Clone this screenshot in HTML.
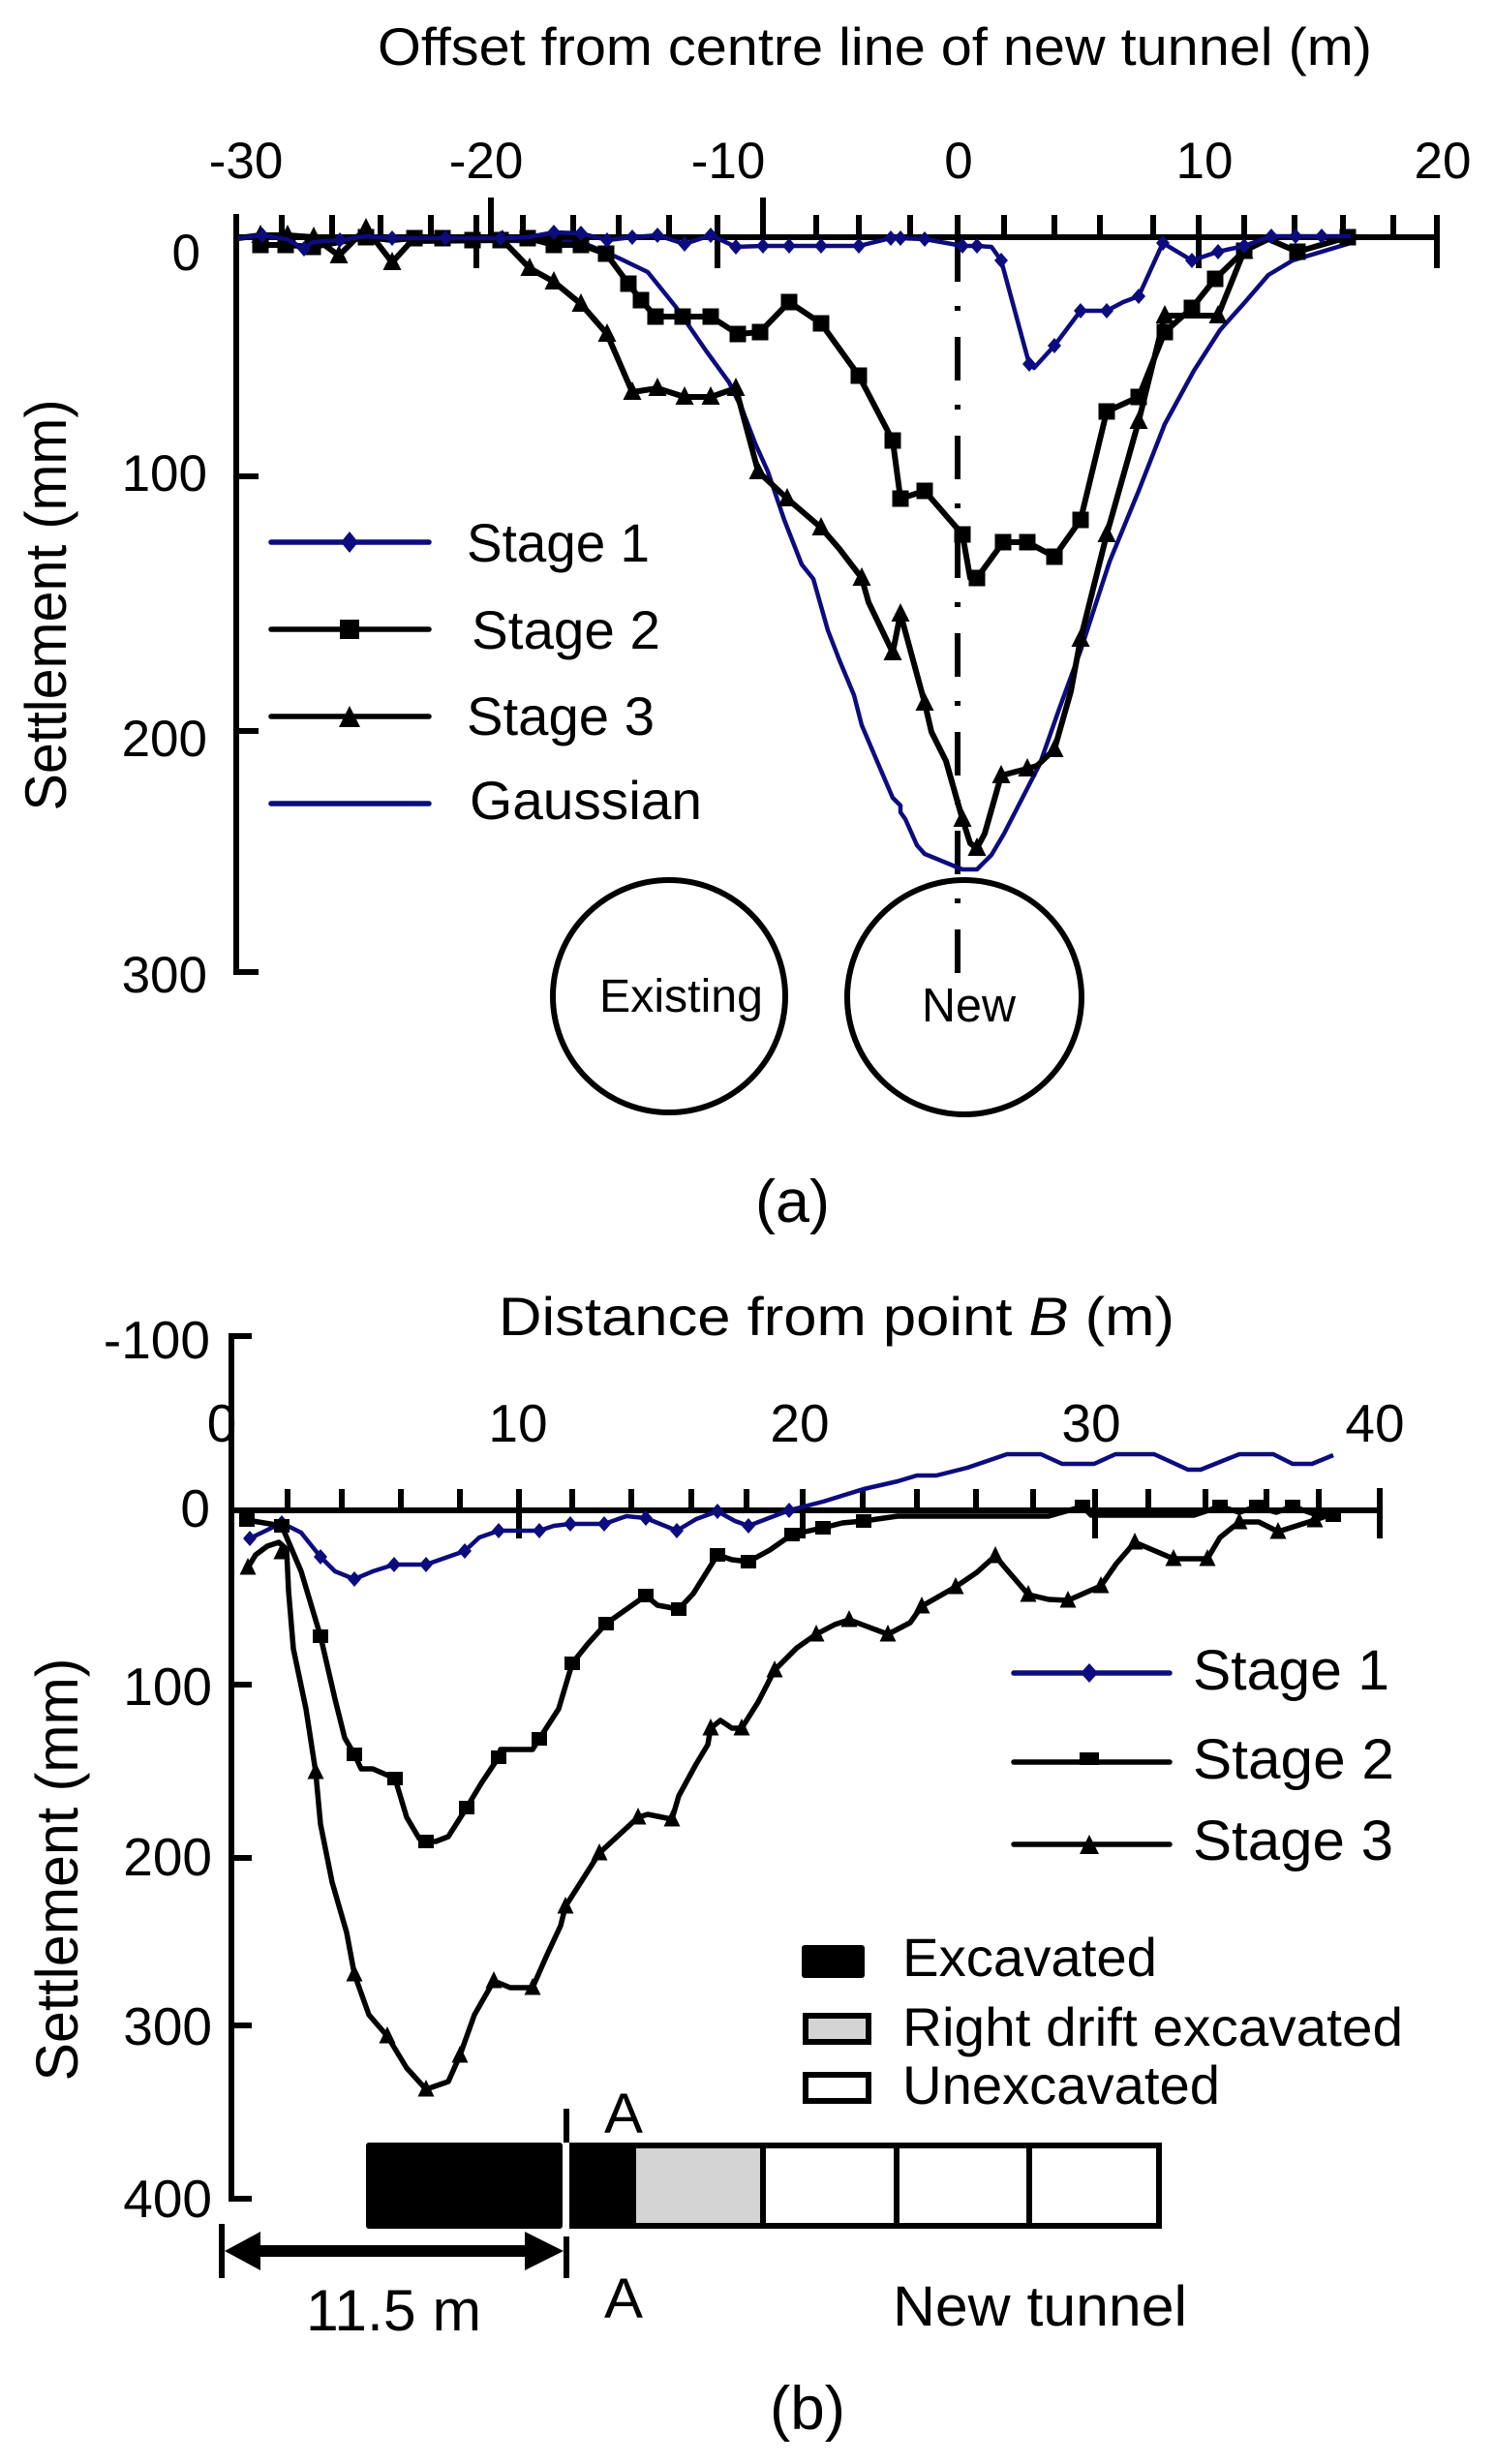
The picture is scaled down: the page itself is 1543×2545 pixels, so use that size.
<!DOCTYPE html>
<html>
<head>
<meta charset="utf-8">
<style>
html,body{margin:0;padding:0;background:#fff;}
svg{display:block;}
text{font-family:"Liberation Sans",Arial,sans-serif;fill:#000;}
</style>
</head>
<body>
<svg width="1543" height="2545" viewBox="0 0 1543 2545" xmlns="http://www.w3.org/2000/svg">
<defs>
  <marker id="dA" markerUnits="userSpaceOnUse" viewBox="-12 -12 24 24" markerWidth="24" markerHeight="24" refX="0" refY="0" overflow="visible"><path d="M0,-8 L7,0 L0,8 L-7,0 Z" fill="#0c0c7e"/></marker>
  <marker id="sA" markerUnits="userSpaceOnUse" viewBox="-12 -12 24 24" markerWidth="24" markerHeight="24" refX="0" refY="0" overflow="visible"><rect x="-8.5" y="-8.5" width="17" height="17" fill="#000"/></marker>
  <marker id="tA" markerUnits="userSpaceOnUse" viewBox="-12 -12 24 24" markerWidth="24" markerHeight="24" refX="0" refY="0" overflow="visible"><path d="M0,-11 L9.5,8 L-9.5,8 Z" fill="#000"/></marker>
  <marker id="dB" markerUnits="userSpaceOnUse" viewBox="-12 -12 24 24" markerWidth="24" markerHeight="24" refX="0" refY="0" overflow="visible"><path d="M0,-8 L7,0 L0,8 L-7,0 Z" fill="#0c0c7e"/></marker>
  <marker id="sB" markerUnits="userSpaceOnUse" viewBox="-12 -12 24 24" markerWidth="24" markerHeight="24" refX="0" refY="0" overflow="visible"><rect x="-8" y="-7" width="16" height="14" fill="#000"/></marker>
  <marker id="tB" markerUnits="userSpaceOnUse" viewBox="-12 -12 24 24" markerWidth="24" markerHeight="24" refX="0" refY="0" overflow="visible"><path d="M0,-10 L8.5,7.5 L-8.5,7.5 Z" fill="#000"/></marker>
</defs>

<!-- ================= PANEL (a) ================= -->
<text x="390" y="67" font-size="55" textLength="1027" lengthAdjust="spacingAndGlyphs">Offset from centre line of new tunnel (m)</text>

<g font-size="53" text-anchor="middle">
  <text x="254" y="184">-30</text>
  <text x="502" y="184">-20</text>
  <text x="752" y="184">-10</text>
  <text x="990" y="184">0</text>
  <text x="1244" y="184">10</text>
  <text x="1490" y="184">20</text>
</g>
<g font-size="53" text-anchor="end">
  <text x="207" y="279">0</text>
  <text x="214" y="507">100</text>
  <text x="214" y="781">200</text>
  <text x="214" y="1025">300</text>
</g>
<text transform="translate(68,625) rotate(-90)" text-anchor="middle" font-size="60" textLength="425" lengthAdjust="spacingAndGlyphs">Settlement (mm)</text>

<!-- axes a -->
<g stroke="#000" stroke-width="6" fill="none" stroke-linecap="butt">
  <line x1="244" y1="221" x2="244" y2="1007"/>
  <line x1="241" y1="245" x2="1487" y2="245"/>
  <line x1="244" y1="492" x2="267" y2="492"/>
  <line x1="244" y1="755" x2="267" y2="755"/>
  <line x1="244" y1="1004" x2="267" y2="1004"/>
  <line x1="291" y1="222" x2="291" y2="245"/>
  <line x1="343" y1="222" x2="343" y2="245"/>
  <line x1="393" y1="222" x2="393" y2="245"/>
  <line x1="445" y1="222" x2="445" y2="245"/>
  <line x1="492" y1="222" x2="492" y2="277"/>
  <line x1="507" y1="204" x2="507" y2="245"/>
  <line x1="540" y1="222" x2="540" y2="245"/>
  <line x1="592" y1="222" x2="592" y2="245"/>
  <line x1="639" y1="222" x2="639" y2="245"/>
  <line x1="691" y1="222" x2="691" y2="245"/>
  <line x1="741" y1="222" x2="741" y2="277"/>
  <line x1="788" y1="204" x2="788" y2="245"/>
  <line x1="843" y1="222" x2="843" y2="245"/>
  <line x1="887" y1="222" x2="887" y2="245"/>
  <line x1="940" y1="222" x2="940" y2="245"/>
  <line x1="989" y1="222" x2="989" y2="245"/>
  <line x1="1037" y1="222" x2="1037" y2="245"/>
  <line x1="1089" y1="222" x2="1089" y2="245"/>
  <line x1="1136" y1="222" x2="1136" y2="245"/>
  <line x1="1191" y1="222" x2="1191" y2="245"/>
  <line x1="1238" y1="222" x2="1238" y2="277"/>
  <line x1="1285" y1="222" x2="1285" y2="245"/>
  <line x1="1337" y1="222" x2="1337" y2="245"/>
  <line x1="1387" y1="222" x2="1387" y2="245"/>
  <line x1="1439" y1="222" x2="1439" y2="245"/>
  <line x1="1484" y1="222" x2="1484" y2="277"/>
</g>

<!-- dash-dot centre line -->
<line x1="989" y1="246" x2="989" y2="1005" stroke="#000" stroke-width="6" stroke-dasharray="45 25 5 27"/>

<!-- circles -->
<circle cx="691" cy="1029" r="120" fill="none" stroke="#000" stroke-width="6"/>
<circle cx="996" cy="1030" r="121" fill="none" stroke="#000" stroke-width="6"/>
<text x="619" y="1045" font-size="48" textLength="169" lengthAdjust="spacingAndGlyphs">Existing</text>
<text x="952" y="1055" font-size="49" textLength="97" lengthAdjust="spacingAndGlyphs">New</text>

<!-- Gaussian a -->
<polyline fill="none" stroke="#0c0c7e" stroke-width="4.5" stroke-linejoin="round" points="480,248 600,250 629,262 640,267 669,281 698,317 729,362 753,395 767,424 780,458 793,487 810,537 828,583 840,598 855,651 867,682 882,718 890,749 907,789 922,824 930,832 930,839 935,846 947,873 955,882 994,898 1009,898 1024,883 1037,861 1074,789 1094,732 1116,672 1146,580 1176,507 1203,438 1233,383 1260,341 1285,313 1310,284 1335,269 1385,254 1395,251"/>

<!-- Stage 3 a -->
<polyline fill="none" stroke="#000" stroke-width="6" stroke-linejoin="round" points="246,246 269,243 297,243 324,245 350,264 378,236 405,271 425,249 519,248 547,277 572,291 600,314 627,345 653,405 679,401 707,410 734,410 760,401 783,487 813,515 848,545 867,567 890,597 897,622 922,674 930,634 955,726 962,756 977,786 994,846 1002,871 1009,876 1017,861 1034,801 1061,794 1071,791 1089,774 1106,714 1116,660 1143,552 1176,435 1203,326 1258,326 1285,259 1300,250"/>
<polyline fill="none" stroke="none" marker-start="url(#tA)" marker-mid="url(#tA)" marker-end="url(#tA)" points="269,243 297,243 324,245 350,264 378,236 405,271 519,248 547,277 572,291 600,314 627,345 653,405 679,401 707,410 734,410 760,401 783,487 813,515 848,545 890,597 922,674 930,634 955,726 994,846 1009,876 1034,801 1061,794 1089,774 1116,660 1143,552 1176,435 1203,326 1258,326 1285,259"/>

<!-- Stage 2 a -->
<polyline fill="none" stroke="#000" stroke-width="6" stroke-linejoin="round" points="269,253 295,253 323,255 351,250 378,245 405,248 428,246 457,246 488,248 517,248 545,246 572,253 600,253 626,262 649,293 662,310 677,327 705,327 734,327 762,345 785,343 815,312 848,334 887,388 922,455 930,515 955,507 994,552 1002,597 1009,597 1036,560 1061,560 1089,575 1116,537 1143,425 1176,410 1203,343 1231,318 1255,288 1285,259 1310,247 1340,260 1392,245"/>
<polyline fill="none" stroke="none" marker-start="url(#sA)" marker-mid="url(#sA)" marker-end="url(#sA)" points="269,253 295,253 323,255 378,245 428,246 457,246 488,248 517,248 545,246 572,253 600,253 626,262 649,293 662,310 677,327 705,327 734,327 762,345 785,343 815,312 848,334 887,388 922,455 930,515 955,507 994,552 1009,597 1036,560 1061,560 1089,575 1116,537 1143,425 1176,410 1203,343 1231,318 1255,288 1285,259 1340,260 1392,245"/>

<!-- Stage 1 a -->
<polyline fill="none" stroke="#0c0c7e" stroke-width="4.5" stroke-linejoin="round" points="246,246 271,243 296,247 314,257 323,250 351,248 378,244 405,246 433,246 460,246 490,246 517,246 545,245 572,240 600,241 627,248 653,245 679,243 707,252 734,243 760,255 788,254 815,254 848,254 887,254 920,246 930,246 955,247 994,254 1009,254 1024,255 1034,269 1063,376 1068,380 1089,357 1116,321 1143,321 1160,312 1176,306 1201,251 1231,269 1258,260 1285,254 1313,244 1338,244 1365,244 1395,244"/>
<polyline fill="none" stroke="none" marker-start="url(#dA)" marker-mid="url(#dA)" marker-end="url(#dA)" points="271,243 314,257 351,248 405,246 460,246 517,246 572,240 600,241 627,248 653,245 679,243 707,252 734,243 760,255 788,254 815,254 848,254 887,254 920,246 930,246 955,247 994,254 1009,254 1034,269 1063,376 1089,357 1116,321 1143,321 1176,306 1201,251 1231,269 1258,260 1285,254 1313,244 1338,244 1365,244"/>

<!-- legend a -->
<g stroke-width="5.5" stroke-linecap="round">
  <line x1="280" y1="560" x2="443" y2="560" stroke="#0c0c7e"/>
  <line x1="280" y1="650" x2="443" y2="650" stroke="#000"/>
  <line x1="280" y1="740" x2="443" y2="740" stroke="#000"/>
  <line x1="280" y1="830" x2="443" y2="830" stroke="#0c0c7e"/>
</g>
<path d="M361,549 L370,560 L361,571 L352,560 Z" fill="#0c0c7e"/>
<rect x="351" y="640" width="20" height="20" fill="#000"/>
<path d="M361,729 L372,751 L350,751 Z" fill="#000"/>
<g font-size="56">
  <text x="482" y="580" textLength="189" lengthAdjust="spacingAndGlyphs">Stage 1</text>
  <text x="487" y="670" textLength="195" lengthAdjust="spacingAndGlyphs">Stage 2</text>
  <text x="482" y="759" textLength="194" lengthAdjust="spacingAndGlyphs">Stage 3</text>
  <text x="485" y="846" textLength="240" lengthAdjust="spacingAndGlyphs">Gaussian</text>
</g>

<text x="780" y="1262" font-size="62" textLength="77" lengthAdjust="spacingAndGlyphs">(a)</text>

<!-- ================= PANEL (b) ================= -->
<text x="515" y="1379" font-size="56" textLength="698" lengthAdjust="spacingAndGlyphs">Distance from point <tspan font-style="italic">B</tspan> (m)</text>

<g font-size="55" text-anchor="middle">
  <text x="229" y="1489">0</text>
  <text x="535" y="1489">10</text>
  <text x="826" y="1489">20</text>
  <text x="1127" y="1489">30</text>
  <text x="1420" y="1489">40</text>
</g>
<g font-size="55" text-anchor="end">
  <text x="217" y="1403">-100</text>
  <text x="217" y="1577">0</text>
  <text x="219" y="1761">100</text>
  <text x="219" y="1937">200</text>
  <text x="219" y="2112">300</text>
  <text x="219" y="2290">400</text>
</g>
<text transform="translate(80,1931) rotate(-90)" text-anchor="middle" font-size="61" textLength="437" lengthAdjust="spacingAndGlyphs">Settlement (mm)</text>

<!-- axes b -->
<g stroke="#000" stroke-width="6" fill="none">
  <line x1="239" y1="1377" x2="239" y2="2274"/>
  <line x1="236" y1="1380" x2="260" y2="1380"/>
  <line x1="236" y1="1740" x2="260" y2="1740"/>
  <line x1="236" y1="1919" x2="260" y2="1919"/>
  <line x1="236" y1="2092" x2="260" y2="2092"/>
  <line x1="236" y1="2271" x2="260" y2="2271"/>
  <line x1="236" y1="1560" x2="1428" y2="1560"/>
  <line x1="297" y1="1538" x2="297" y2="1560"/>
  <line x1="353" y1="1538" x2="353" y2="1560"/>
  <line x1="414" y1="1538" x2="414" y2="1560"/>
  <line x1="475" y1="1538" x2="475" y2="1560"/>
  <line x1="536" y1="1538" x2="536" y2="1589"/>
  <line x1="591" y1="1538" x2="591" y2="1560"/>
  <line x1="652" y1="1538" x2="652" y2="1560"/>
  <line x1="714" y1="1538" x2="714" y2="1560"/>
  <line x1="771" y1="1538" x2="771" y2="1560"/>
  <line x1="829" y1="1538" x2="829" y2="1589"/>
  <line x1="891" y1="1538" x2="891" y2="1560"/>
  <line x1="947" y1="1538" x2="947" y2="1560"/>
  <line x1="1008" y1="1538" x2="1008" y2="1560"/>
  <line x1="1067" y1="1538" x2="1067" y2="1560"/>
  <line x1="1131" y1="1538" x2="1131" y2="1589"/>
  <line x1="1186" y1="1538" x2="1186" y2="1560"/>
  <line x1="1245" y1="1538" x2="1245" y2="1560"/>
  <line x1="1308" y1="1538" x2="1308" y2="1560"/>
  <line x1="1362" y1="1538" x2="1362" y2="1560"/>
  <line x1="1425" y1="1537" x2="1425" y2="1589"/>
</g>

<!-- Stage 1 b -->
<polyline fill="none" stroke="#0c0c7e" stroke-width="4.5" stroke-linejoin="round" points="258,1589 291,1573 311,1583 331,1608 346,1623 366,1631 385,1623 407,1616 440,1616 480,1602 495,1588 515,1581 537,1581 557,1581 572,1576 589,1574 624,1574 647,1566 667,1568 699,1581 719,1569 741,1561 759,1571 773,1576 815,1560 850,1551 892,1538 927,1530 947,1524 967,1524 999,1516 1040,1502 1075,1502 1097,1512 1130,1512 1152,1502 1192,1502 1227,1518 1240,1518 1280,1502 1315,1502 1335,1512 1355,1512 1377,1503"/>
<polyline fill="none" stroke="none" marker-start="url(#dB)" marker-mid="url(#dB)" marker-end="url(#dB)" points="258,1589 291,1573 331,1608 366,1631 407,1616 440,1616 480,1602 515,1581 557,1581 589,1574 624,1574 667,1568 699,1581 741,1561 773,1576 815,1560"/>

<!-- Stage 2 b -->
<polyline fill="none" stroke="#000" stroke-width="5.5" stroke-linejoin="round" points="255,1570 291,1576 311,1623 331,1690 346,1755 356,1795 366,1812 373,1827 385,1827 408,1837 420,1877 433,1899 440,1902 450,1902 463,1897 482,1867 497,1842 515,1815 517,1807 550,1807 557,1796 577,1765 591,1718 607,1698 626,1677 667,1648 679,1658 701,1662 716,1646 741,1606 756,1611 773,1613 795,1601 818,1585 850,1578 870,1573 892,1571 927,1566 1083,1566 1118,1556 1127,1565 1233,1565 1260,1556 1280,1562 1298,1556 1318,1562 1335,1556 1355,1563 1377,1565"/>
<polyline fill="none" stroke="none" marker-start="url(#sB)" marker-mid="url(#sB)" marker-end="url(#sB)" points="255,1570 291,1576 331,1690 366,1812 408,1837 440,1902 482,1867 515,1815 557,1796 591,1718 626,1677 667,1648 701,1662 741,1606 773,1613 818,1585 850,1578 892,1571 1118,1556 1260,1556 1298,1556 1335,1556 1377,1565"/>

<!-- Stage 3 b -->
<polyline fill="none" stroke="#000" stroke-width="5.5" stroke-linejoin="round" points="256,1619 264,1606 276,1597 288,1593 296,1600 298,1643 303,1703 316,1765 326,1830 331,1884 343,1944 358,1996 366,2039 381,2081 400,2103 420,2136 440,2158 463,2150 475,2123 490,2081 510,2046 527,2053 550,2053 565,2019 579,1989 584,1969 619,1914 659,1877 669,1874 694,1879 701,1855 719,1822 731,1802 734,1785 744,1777 756,1785 766,1785 783,1758 800,1725 823,1702 843,1688 862,1678 877,1673 917,1688 940,1676 952,1659 987,1639 1009,1624 1028,1607 1037,1618 1062,1647 1083,1652 1103,1653 1137,1638 1153,1615 1172,1593 1212,1610 1247,1610 1260,1588 1280,1572 1300,1572 1320,1582 1358,1570 1375,1564"/>
<polyline fill="none" stroke="none" marker-start="url(#tB)" marker-mid="url(#tB)" marker-end="url(#tB)" points="256,1619 291,1603 326,1830 366,2039 400,2103 440,2158 475,2123 510,2046 550,2053 584,1969 619,1914 659,1877 694,1879 734,1785 766,1785 800,1725 843,1688 877,1673 917,1688 952,1659 987,1639 1028,1607 1062,1647 1103,1653 1137,1638 1172,1593 1212,1610 1247,1610 1280,1572 1320,1582 1358,1570"/>

<!-- legend b -->
<g stroke-width="5.5" stroke-linecap="round">
  <line x1="1047" y1="1728" x2="1208" y2="1728" stroke="#0c0c7e"/>
  <line x1="1047" y1="1820" x2="1208" y2="1820" stroke="#000"/>
  <line x1="1047" y1="1905" x2="1208" y2="1905" stroke="#000"/>
</g>
<path d="M1125,1718 L1134,1728 L1125,1738 L1116,1728 Z" fill="#0c0c7e"/>
<rect x="1115" y="1810" width="20" height="13" fill="#000"/>
<path d="M1125,1895 L1135,1915 L1115,1915 Z" fill="#000"/>
<g font-size="58">
  <text x="1232" y="1745" textLength="203" lengthAdjust="spacingAndGlyphs">Stage 1</text>
  <text x="1232" y="1837" textLength="208" lengthAdjust="spacingAndGlyphs">Stage 2</text>
  <text x="1232" y="1921" textLength="207" lengthAdjust="spacingAndGlyphs">Stage 3</text>
</g>

<!-- excavation legend -->
<rect x="828" y="2009" width="65" height="34" rx="3" fill="#000"/>
<rect x="832" y="2082" width="65" height="27" fill="#d4d4d4" stroke="#000" stroke-width="6"/>
<rect x="832" y="2143" width="65" height="27" fill="#fff" stroke="#000" stroke-width="6"/>
<g font-size="56">
  <text x="932" y="2041" textLength="263" lengthAdjust="spacingAndGlyphs">Excavated</text>
  <text x="932" y="2113" textLength="517" lengthAdjust="spacingAndGlyphs">Right drift excavated</text>
  <text x="932" y="2173" textLength="328" lengthAdjust="spacingAndGlyphs">Unexcavated</text>
</g>

<!-- tunnel diagram -->
<rect x="378" y="2213" width="203" height="89" rx="3" fill="#000"/>
<rect x="591" y="2216" width="606" height="83" fill="#fff" stroke="#000" stroke-width="6"/>
<rect x="657" y="2219" width="131" height="77" fill="#d4d4d4"/>
<rect x="588" y="2213" width="69" height="89" fill="#000"/>
<g stroke="#000" stroke-width="6">
  <line x1="788" y1="2216" x2="788" y2="2299"/>
  <line x1="926" y1="2216" x2="926" y2="2299"/>
  <line x1="1063" y1="2216" x2="1063" y2="2299"/>
  <line x1="585" y1="2178" x2="585" y2="2213"/>
  <line x1="229" y1="2297" x2="229" y2="2353"/>
  <line x1="585" y1="2310" x2="585" y2="2353"/>
</g>
<line x1="250" y1="2325" x2="565" y2="2325" stroke="#000" stroke-width="12"/>
<path d="M232,2325 L269,2305 L269,2345 Z" fill="#000"/>
<path d="M582,2325 L542,2305 L542,2345 Z" fill="#000"/>

<g font-size="58">
  <text x="624" y="2203" textLength="40" lengthAdjust="spacingAndGlyphs">A</text>
  <text x="624" y="2394" textLength="40" lengthAdjust="spacingAndGlyphs">A</text>
  <text x="316" y="2407" font-size="60" textLength="181" lengthAdjust="spacingAndGlyphs">11.5 m</text>
  <text x="922" y="2402" textLength="304" lengthAdjust="spacingAndGlyphs">New tunnel</text>
</g>

<text x="795" y="2509" font-size="63" textLength="78" lengthAdjust="spacingAndGlyphs">(b)</text>
</svg>
</body>
</html>
